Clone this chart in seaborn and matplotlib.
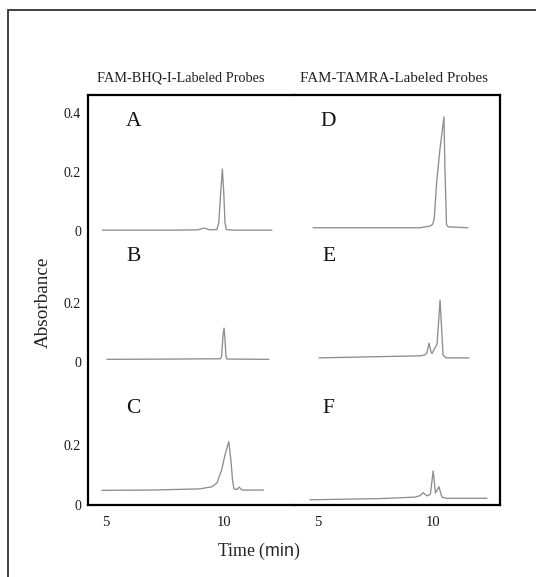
import matplotlib
matplotlib.use("Agg")
import matplotlib.pyplot as plt
import seaborn as sns
import pandas as pd
from matplotlib.patches import Rectangle

# ---------------- data ----------------
column_titles = ["FAM-BHQ-I-Labeled Probes", "FAM-TAMRA-Labeled Probes"]
panel_letters_left = ["A", "B", "C"]
panel_letters_right = ["D", "E", "F"]
x_ticks = [5, 10]
x_tick_labels = ["5", "10"]
y_tick_values = [0, 0.2, 0, 0.2, 0, 0.2, 0.4]

# left column (FAM-BHQ-1)
time_A = [4.84, 8.0, 8.9, 9.15, 9.4, 9.70, 9.78, 9.85, 9.93, 9.99, 10.04, 10.10, 10.4, 12.03]
abs_A = [0.004, 0.004, 0.005, 0.011, 0.005, 0.006, 0.030, 0.120, 0.211, 0.130, 0.030, 0.006, 0.004, 0.004]

time_B = [5.04, 8.0, 9.85, 9.90, 9.96, 10.00, 10.04, 10.08, 10.13, 11.90]
abs_B = [0.008, 0.009, 0.010, 0.020, 0.090, 0.114, 0.080, 0.020, 0.009, 0.008]

time_C = [4.82, 7.0, 8.98, 9.48, 9.70, 9.90, 10.04, 10.20, 10.30, 10.36, 10.42, 10.55, 10.64, 10.76, 11.67]
abs_C = [0.048, 0.049, 0.053, 0.060, 0.073, 0.117, 0.168, 0.213, 0.144, 0.083, 0.053, 0.051, 0.059, 0.049, 0.049]

# right column (FAM-TAMRA)
time_D = [4.80, 9.45, 9.90, 10.00, 10.07, 10.17, 10.31, 10.49, 10.53, 10.60, 10.68, 11.53]
abs_D = [0.012, 0.012, 0.018, 0.024, 0.045, 0.164, 0.275, 0.388, 0.220, 0.022, 0.015, 0.012]

time_E = [5.06, 9.45, 9.67, 9.75, 9.84, 9.92, 9.97, 10.19, 10.32, 10.45, 10.58, 11.58]
abs_E = [0.013, 0.020, 0.023, 0.030, 0.063, 0.035, 0.028, 0.060, 0.209, 0.023, 0.013, 0.013]

time_F = [4.67, 7.71, 9.23, 9.45, 9.58, 9.76, 9.90, 10.02, 10.12, 10.27, 10.40, 10.60, 12.36]
abs_F = [0.016, 0.020, 0.025, 0.030, 0.040, 0.029, 0.035, 0.114, 0.039, 0.060, 0.025, 0.021, 0.021]

# ---------------- layout ----------------
W, H = 536, 577
sns.set_style("white")
plt.rcParams["font.family"] = ["Liberation Serif", "DejaVu Serif"]
plt.rcParams["mathtext.fontset"] = "custom"
plt.rcParams["mathtext.sf"] = "Liberation Sans"
plt.rcParams["mathtext.rm"] = "Liberation Serif"

fig = plt.figure(figsize=(W / 100, H / 100), dpi=100)
fig.patch.set_facecolor("white")

# vertical stacking offsets (rows A/D, B/E, C/F)
offsets = [0.926, 0.484, 0.0]
ylim = (0.0, 1.388)

px_left, px_split, px_right = 88, 295, 500
px_bottom, px_top = 504.5, 95
fb = 1 - px_bottom / H
fh = (px_bottom - px_top) / H

axL = fig.add_axes([px_left / W, fb, (px_split - px_left) / W, fh])
axR = fig.add_axes([px_split / W, fb, (px_right - px_split) / W, fh])

trace_color = "#8e8e8e"
left_sets = [(time_A, abs_A), (time_B, abs_B), (time_C, abs_C)]
right_sets = [(time_D, abs_D), (time_E, abs_E), (time_F, abs_F)]

for ax, sets in ((axL, left_sets), (axR, right_sets)):
    for (t, a), off in zip(sets, offsets):
        df = pd.DataFrame({"t": t, "a": [v + off for v in a]})
        sns.lineplot(data=df, x="t", y="a", ax=ax, color=trace_color,
                     linewidth=0.95, estimator=None, sort=False)

axL.set_xlim(4.237, 13.008)
axR.set_xlim(4.013, 12.926)
for ax in (axL, axR):
    ax.set_ylim(*ylim)
    ax.set_xlabel("")
    ax.set_ylabel("")
    ax.set_facecolor("white")
    ax.set_xticks(x_ticks)
    ax.set_xticklabels(x_tick_labels, fontsize=10.5)
    ax.tick_params(axis="x", direction="in", length=5.5, width=1.6,
                   color="black", pad=8.5, labelcolor="#1a1a1a")
    for s in ax.spines.values():
        s.set_linewidth(1.6)
        s.set_color("black")

axL.spines["right"].set_visible(False)
axR.spines["left"].set_visible(False)

ytick_pos = [offsets[2], offsets[2] + 0.2, offsets[1], offsets[1] + 0.2,
             offsets[0], offsets[0] + 0.2, offsets[0] + 0.4]
axL.set_yticks(ytick_pos)
axL.set_yticklabels([("0" if v == 0 else f"{v:.1f}") for v in y_tick_values], fontsize=10)
axL.tick_params(axis="y", direction="inout", length=7, width=1.6, pad=1.5,
                labelcolor="#1a1a1a")
axR.set_yticks([])

# panel letters
letter_y = [1.298, 0.839, 0.324]
for lt, y in zip(panel_letters_left, letter_y):
    axL.text(6.17, y, lt, ha="center", va="center", fontsize=15.5, color="#111111")
for lt, y in zip(panel_letters_right, letter_y):
    axR.text(5.47, y, lt, ha="center", va="center", fontsize=15.5, color="#111111")

# column titles
fig.text(180.5 / W, 1 - 78 / H, column_titles[0], ha="center", va="center",
         fontsize=10.3, color="#222222")
fig.text(393.5 / W, 1 - 78 / H, column_titles[1], ha="center", va="center",
         fontsize=10.8, color="#222222")

# axis titles
fig.text(43 / W, 1 - 302 / H, "Absorbance", rotation=90, ha="center",
         va="center", fontsize=13.8, color="#222222")
fig.text(259 / W, 1 - 551 / H, r"Time ($\mathsf{min}$)", ha="center",
         va="center", fontsize=12.8, color="#222222")

# outer frame (extends past the right and bottom edges)
fig.patches.append(Rectangle((8 / W, -0.1), 1.2, 1 - 10 / H + 0.1,
                             transform=fig.transFigure, fill=False,
                             edgecolor="#333333", linewidth=1.3))

fig.savefig("out.png", dpi=100, facecolor="white")
